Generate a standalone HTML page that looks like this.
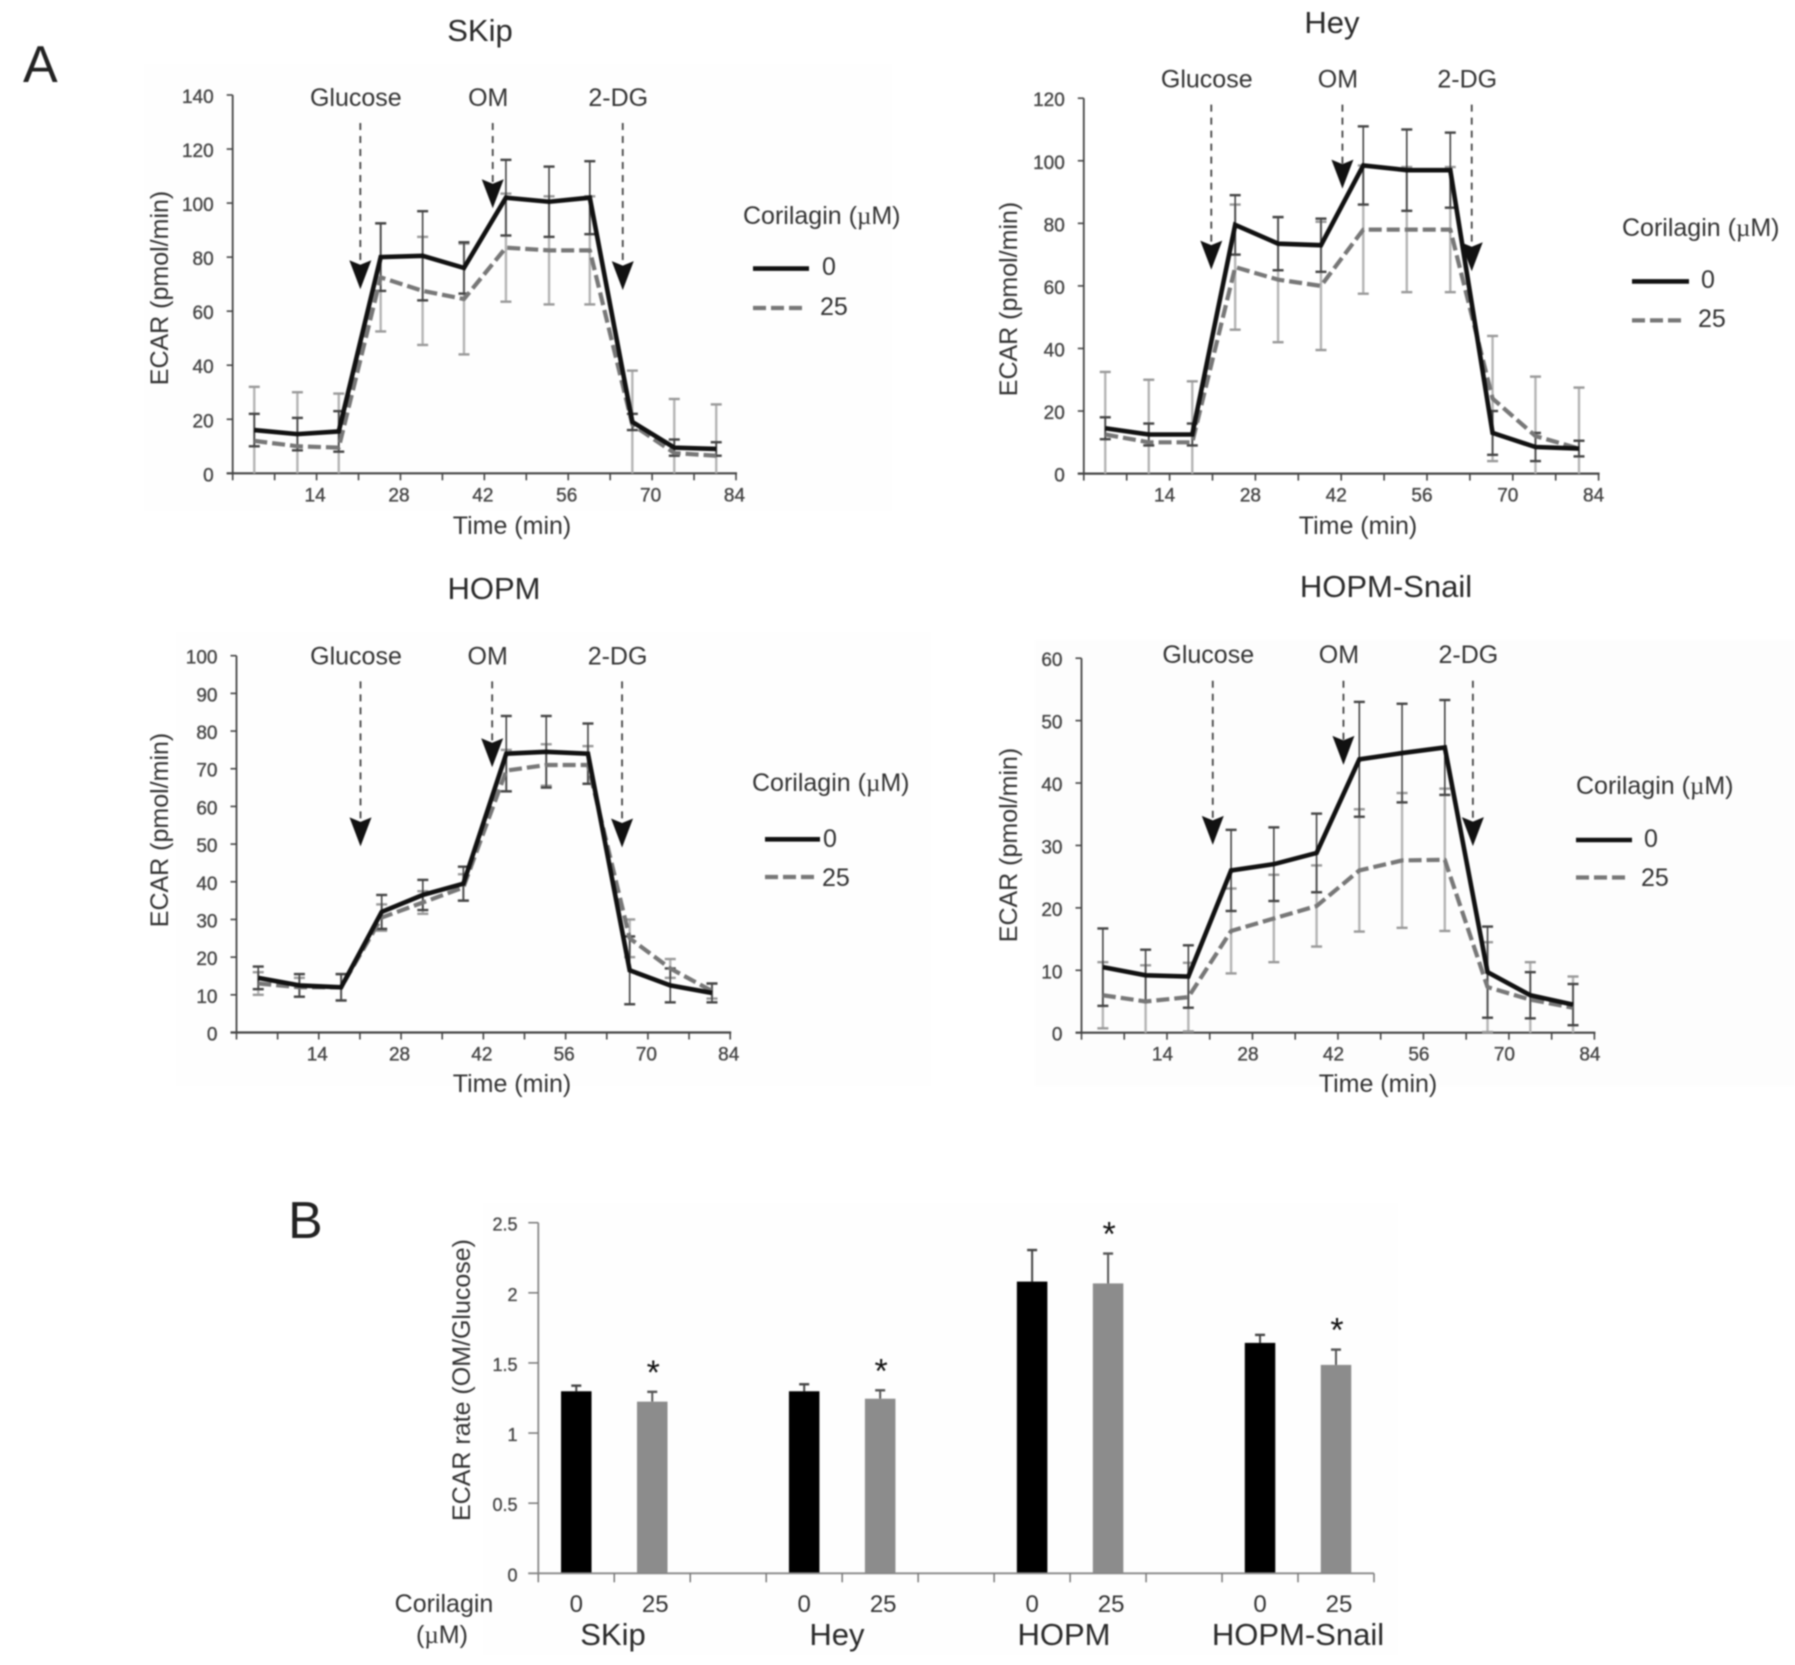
<!DOCTYPE html>
<html lang="en">
<head>
<meta charset="utf-8">
<title>ECAR charts</title>
<style>
html,body{margin:0;padding:0;background:#fff;}
svg{display:block;filter:blur(0.8px);}
text{font-family:"Liberation Sans",sans-serif;fill:#333;}
.mu{font-family:"Liberation Serif",serif;}
.lab{font-size:25px;}
.title{font-size:31px;fill:#2a2a2a;}
.letter{font-size:52px;fill:#222;}
</style>
</head>
<body>
<svg id="fig" xmlns="http://www.w3.org/2000/svg" width="1795" height="1665" viewBox="0 0 1795 1665">
  <rect width="1795" height="1665" fill="#fff"/>
  <rect x="144" y="64" width="748" height="447" fill="#fefefe"/>
  <rect x="176" y="632" width="755" height="454" fill="#fefefe"/>
  <rect x="1035" y="640" width="760" height="446" fill="#fdfdfd"/>
  <rect x="483" y="1203" width="915" height="452" fill="#fefefe"/>

  <text class="letter" x="23" y="82">A</text>
  <text class="letter" x="288" y="1238">B</text>

  <text class="title" x="480" y="41" text-anchor="middle">SKip</text>
  <text class="title" x="1332" y="33" text-anchor="middle">Hey</text>
  <text class="title" x="494" y="599" text-anchor="middle">HOPM</text>
  <text class="title" x="1386" y="597" text-anchor="middle">HOPM-Snail</text>

  <text class="lab" transform="translate(168,288) rotate(-90)" text-anchor="middle">ECAR (pmol/min)</text>
  <text class="lab" transform="translate(1017,299) rotate(-90)" text-anchor="middle">ECAR (pmol/min)</text>
  <text class="lab" transform="translate(168,830) rotate(-90)" text-anchor="middle">ECAR (pmol/min)</text>
  <text class="lab" transform="translate(1017,845) rotate(-90)" text-anchor="middle">ECAR (pmol/min)</text>
  <text class="lab" x="512" y="534" text-anchor="middle">Time (min)</text>
  <text class="lab" x="1358" y="534" text-anchor="middle">Time (min)</text>
  <text class="lab" x="512" y="1092" text-anchor="middle">Time (min)</text>
  <text class="lab" x="1378" y="1092" text-anchor="middle">Time (min)</text>

  <g>
    <text class="lab" x="743" y="224">Corilagin (<tspan class="mu">µ</tspan>M)</text>
    <line x1="753" x2="809" y1="268.6" y2="268.6" stroke="#111" stroke-width="4.6"/>
    <text class="lab" x="822" y="275">0</text>
    <line x1="753" x2="807" y1="308" y2="308" stroke="#777" stroke-width="4.2" stroke-dasharray="13 5"/>
    <text class="lab" x="820" y="315">25</text>
  </g>
  <g>
    <text class="lab" x="1622" y="236">Corilagin (<tspan class="mu">µ</tspan>M)</text>
    <line x1="1632" x2="1689" y1="281.4" y2="281.4" stroke="#111" stroke-width="4.6"/>
    <text class="lab" x="1701" y="288">0</text>
    <line x1="1632" x2="1683" y1="320.4" y2="320.4" stroke="#777" stroke-width="4.2" stroke-dasharray="13 5"/>
    <text class="lab" x="1698" y="327">25</text>
  </g>
  <g>
    <text class="lab" x="752" y="791">Corilagin (<tspan class="mu">µ</tspan>M)</text>
    <line x1="765" x2="820" y1="839.3" y2="839.3" stroke="#111" stroke-width="4.6"/>
    <text class="lab" x="823" y="847">0</text>
    <line x1="765" x2="819" y1="877" y2="877" stroke="#777" stroke-width="4.2" stroke-dasharray="13 5"/>
    <text class="lab" x="822" y="886">25</text>
  </g>
  <g>
    <text class="lab" x="1576" y="794">Corilagin (<tspan class="mu">µ</tspan>M)</text>
    <line x1="1576" x2="1632" y1="840" y2="840" stroke="#111" stroke-width="4.6"/>
    <text class="lab" x="1644" y="847">0</text>
    <line x1="1576" x2="1628" y1="877.5" y2="877.5" stroke="#777" stroke-width="4.2" stroke-dasharray="13 5"/>
    <text class="lab" x="1641" y="886">25</text>
  </g>

  <text class="lab" transform="translate(470,1380) rotate(-90)" text-anchor="middle">ECAR rate (OM/Glucose)</text>
  <text class="lab" x="444" y="1612" text-anchor="middle">Corilagin</text>
  <text class="lab" x="442" y="1643" text-anchor="middle">(<tspan class="mu">µ</tspan>M)</text>
  <text class="title" x="613" y="1645" text-anchor="middle">SKip</text>
  <text class="title" x="837" y="1645" text-anchor="middle">Hey</text>
  <text class="title" x="1064" y="1645" text-anchor="middle">HOPM</text>
  <text class="title" x="1298" y="1645" text-anchor="middle">HOPM-Snail</text>
</svg>

<script>
// ---- Shared tick labels ----
var xTickLabels = [14, 28, 42, 56, 70, 84];
var xTickMinor = [0, 7, 14, 21, 28, 35, 42, 49, 56, 63, 70, 77, 84];
var skipYTicks = [0, 20, 40, 60, 80, 100, 120, 140];
var heyYTicks = [0, 20, 40, 60, 80, 100, 120];
var hopmYTicks = [0, 10, 20, 30, 40, 50, 60, 70, 80, 90, 100];
var snailYTicks = [0, 10, 20, 30, 40, 50, 60];
var annotationNames = ["Glucose", "OM", "2-DG"];

// ---- SKip ----
var skipTime = [3.6, 10.8, 17.7, 24.7, 31.7, 38.6, 45.6, 52.8, 59.6, 66.7, 73.7, 80.7];
var skipControl = [16, 14.5, 15.5, 80, 80.5, 76, 102, 100.5, 102, 19, 9.5, 9];
var skipControlErr = [6, 6, 7.5, 12.5, 16.5, 9.5, 14, 13, 13.5, 3, 3, 2.5];
var skipTreated = [12, 10, 9.5, 72.5, 67.5, 64.5, 83.5, 82.5, 82.5, 18, 7.5, 6.5];
var skipTreatedErr = [20, 20, 20, 20, 20, 20.5, 20, 20, 20, 20, 20, 19];
var skipArrowTime = [21.3, 43.4, 65.1];
var skipArrowTip = [68.1, 98.1, 67.8];

// ---- Hey ----
var heyTime = [3.5, 10.6, 17.7, 24.7, 31.7, 38.7, 45.6, 52.7, 59.8, 66.7, 73.7, 80.8];
var heyControl = [14.5, 12.5, 12.5, 79.5, 73.5, 73, 98.5, 97, 97, 13, 8.5, 8];
var heyControlErr = [3.5, 3.5, 3.5, 9.5, 8.5, 8.5, 12.5, 13, 12, 7, 4.5, 2.5];
var heyTreated = [12.5, 10, 10, 66, 62, 60, 78, 78, 78, 24, 12, 8];
var heyTreatedErr = [20, 20, 19.5, 20, 20, 20.5, 20.5, 20, 20, 20, 19, 19.5];
var heyArrowTime = [20.8, 42.2, 63.3];
var heyArrowTip = [65.2, 91.1, 64.7];

// ---- HOPM ----
var hopmTime = [3.7, 10.7, 17.8, 24.7, 31.7, 38.6, 45.9, 52.7, 59.8, 66.9, 73.8, 80.9];
var hopmControl = [14.5, 12.5, 12, 32, 36.5, 39.5, 74, 74.5, 74, 16.5, 12.5, 10.5];
var hopmControlErr = [3, 3, 3.5, 4.5, 4, 4.5, 10, 9.5, 8, 9, 4.5, 2.5];
var hopmTreated = [13, 12, 12, 30.5, 34.5, 38.5, 69.5, 71, 71, 25, 17, 11];
var hopmTreatedErr = [3, 2.5, 3.5, 3.5, 3, 3.5, 5.5, 5.5, 5, 5, 2.5, 2];
var hopmArrowTime = [21.1, 43.5, 65.6];
var hopmArrowTip = [49.4, 70.4, 49.1];

// ---- HOPM-Snail ----
var snailTime = [3.5, 10.5, 17.5, 24.5, 31.5, 38.5, 45.5, 52.5, 59.5, 66.5, 73.5, 80.5];
var snailControl = [10.5, 9.2, 9, 26, 27, 28.8, 43.8, 44.8, 45.7, 9.7, 6, 4.5];
var snailControlErr = [6.2, 4.1, 5, 6.5, 5.9, 6.3, 9.2, 7.9, 7.6, 7.3, 3.7, 3.3];
var snailTreated = [6, 5, 5.7, 16.3, 18.3, 20.3, 26, 27.6, 27.7, 7.3, 5.3, 4];
var snailTreatedErr = [5.3, 5.8, 5.5, 6.8, 7, 6.5, 9.8, 10.8, 11.4, 7.2, 6, 5];
var snailArrowTime = [21.5, 42.9, 64.1];
var snailArrowTip = [30.1, 42.9, 29.9];

// ---- Ratio bars ----
var ratioYTicks = [0, 0.5, 1, 1.5, 2, 2.5];
var ratioDoseLabels = ["0", "25"];
var ratioControl = [1.298, 1.298, 2.08, 1.643];
var ratioControlErr = [0.04, 0.05, 0.225, 0.057];
var ratioTreated = [1.224, 1.245, 2.067, 1.486];
var ratioTreatedErr = [0.07, 0.06, 0.213, 0.109];
var ratioStars = ["*", "*", "*", "*"];

var NS = "http://www.w3.org/2000/svg";
var fig = document.getElementById("fig");

function mk(parent, tag, attrs, txt) {
  var el = document.createElementNS(NS, tag);
  for (var k in attrs) el.setAttribute(k, attrs[k]);
  if (txt !== undefined) el.textContent = txt;
  parent.appendChild(el);
  return el;
}

function drawPanel(p) {
  var g = mk(fig, "g", {});
  
  
  var sx = function (t) { return p.x0 + (t / 84) * (p.x84 - p.x0); };
  var sy = function (v) { return p.y0 - (v / p.yMax) * (p.y0 - p.yTop); };

  // axes
  var yAxis = mk(g, "line", { x1: p.x0, x2: p.x0, y1: p.yTop, y2: p.y0, stroke: "#444", "stroke-width": 1.8 });
  
  
  var xAxis = mk(g, "line", { x1: p.x0 - 6, x2: p.x84 + 1, y1: p.y0, y2: p.y0, stroke: "#444", "stroke-width": 2.2 });
  
  

  p.yTicks.forEach(function (v) {
    var t = mk(g, "line", { x1: p.x0 - 6, x2: p.x0, y1: sy(v), y2: sy(v), stroke: "#444", "stroke-width": 1.6 });
    
    
    var l = mk(g, "text", { x: p.x0 - 19, y: sy(v) + 8, "text-anchor": "end", "font-size": 19, style: "fill:#444;stroke:#444;stroke-width:0.35" }, String(v));
    
    
  });
  xTickMinor.forEach(function (v) {
    var t = mk(g, "line", { x1: sx(v), x2: sx(v), y1: p.y0, y2: p.y0 + 7, stroke: "#444", "stroke-width": 1.6 });
    
    
  });
  xTickLabels.forEach(function (v) {
    var l = mk(g, "text", { x: sx(v) + p.labelDx, y: p.y0 + 28, "text-anchor": "middle", "font-size": 19, style: "fill:#444;stroke:#444;stroke-width:0.35" }, String(v));
    
    
  });

  function errors(vals, errs, color, width, capColor, nm) {
    vals.forEach(function (v, i) {
      var x = sx(p.time[i]);
      var hi = sy(v + errs[i]);
      var lowVal = v - errs[i];
      var lo = sy(Math.max(0, lowVal));
      var s = mk(g, "line", { x1: x, x2: x, y1: hi, y2: lo, stroke: color, "stroke-width": width });
      
      
      var c1 = mk(g, "line", { x1: x - 5.5, x2: x + 5.5, y1: hi, y2: hi, stroke: capColor, "stroke-width": 2.4 });
      
      
      if (lowVal > 0) {
        var c2 = mk(g, "line", { x1: x - 5.5, x2: x + 5.5, y1: lo, y2: lo, stroke: capColor, "stroke-width": 2.4 });
        
        
      }
    });
  }
  errors(p.treated, p.treatedErr, "#b4b4b4", 2.4, "#999", "treated");
  errors(p.control, p.controlErr, "#444", 1.6, "#444", "control");

  function series(vals, attrs, nm) {
    var pts = vals.map(function (v, i) { return sx(p.time[i]) + "," + sy(v); }).join(" ");
    attrs.points = pts;
    attrs.fill = "none";
    var pl = mk(g, "polyline", attrs);
    
    
  }
  series(p.treated, { stroke: "#777", "stroke-width": 4.2, "stroke-dasharray": "13 5", "stroke-linejoin": "round" }, "series-25");
  series(p.control, { stroke: "#111", "stroke-width": 4.6, "stroke-linejoin": "miter" }, "series-0");

  // treatment arrows
  annotationNames.forEach(function (name, i) {
    var x = sx(p.arrowTime[i]);
    var tip = sy(p.arrowTip[i]);
    var d = mk(g, "line", { x1: x, x2: x, y1: p.arrowTop, y2: tip - 25, stroke: "#444", "stroke-width": 1.8, "stroke-dasharray": "7 6" });
    
    
    var h = mk(g, "polygon", { points: x + "," + tip + " " + (x - 11) + "," + (tip - 29) + " " + x + "," + (tip - 24.5) + " " + (x + 11) + "," + (tip - 29), fill: "#111" });
    
    
    var l = mk(g, "text", { x: x - 4.5, y: p.labelY, "text-anchor": "middle", "font-size": 25 }, name);
    
    
  });
}

drawPanel({ name: "skip", x0: 232.7, x84: 736, y0: 473.3, yTop: 95, yMax: 140, labelDx: -1.5, yTicks: skipYTicks, time: skipTime,
  control: skipControl, controlErr: skipControlErr, treated: skipTreated, treatedErr: skipTreatedErr,
  arrowTime: skipArrowTime, arrowTip: skipArrowTip, arrowTop: 123, labelY: 106 });
drawPanel({ name: "hey", x0: 1083.8, x84: 1598.6, y0: 473.6, yTop: 98.2, yMax: 120, labelDx: -5, yTicks: heyYTicks, time: heyTime,
  control: heyControl, controlErr: heyControlErr, treated: heyTreated, treatedErr: heyTreatedErr,
  arrowTime: heyArrowTime, arrowTip: heyArrowTip, arrowTop: 104.6, labelY: 87.5 });
drawPanel({ name: "hopm", x0: 236.5, x84: 730.2, y0: 1032.5, yTop: 655.7, yMax: 100, labelDx: -1.5, yTicks: hopmYTicks, time: hopmTime,
  control: hopmControl, controlErr: hopmControlErr, treated: hopmTreated, treatedErr: hopmTreatedErr,
  arrowTime: hopmArrowTime, arrowTip: hopmArrowTip, arrowTop: 681.4, labelY: 664.3 });
drawPanel({ name: "hopm-snail", x0: 1081.5, x84: 1594.4, y0: 1032.7, yTop: 658.2, yMax: 60, labelDx: -4.5, yTicks: snailYTicks, time: snailTime,
  control: snailControl, controlErr: snailControlErr, treated: snailTreated, treatedErr: snailTreatedErr,
  arrowTime: snailArrowTime, arrowTip: snailArrowTip, arrowTop: 680.7, labelY: 662.9 });

// ---- Bar chart ----
(function () {
  var g = mk(fig, "g", {});
  
  
  var x0 = 538.3, x1 = 1374, y0 = 1573.3, yTop = 1222.7, yMax = 2.5, slots = 11, bw = 30.5;
  var slotW = (x1 - x0) / slots;
  var sy = function (v) { return y0 - (v / yMax) * (y0 - yTop); };
  var sc = function (s) { return x0 + (s + 0.5) * slotW; };

  var ya = mk(g, "line", { x1: x0, x2: x0, y1: yTop, y2: y0, stroke: "#888", "stroke-width": 1.8 });
  
  
  ratioYTicks.forEach(function (v) {
    var t = mk(g, "line", { x1: x0 - 10, x2: x0, y1: sy(v), y2: sy(v), stroke: "#777", "stroke-width": 1.5 });
    
    
    var l = mk(g, "text", { x: 517.5, y: sy(v) + 8, "text-anchor": "end", "font-size": 18, style: "fill:#444;stroke:#444;stroke-width:0.3" }, String(v));
    
    
  });

  function bar(slot, v, err, color, errColor, nm) {
    var c = sc(slot);
    var top = sy(v + err);
    var s = mk(g, "line", { x1: c, x2: c, y1: top, y2: sy(v), stroke: errColor, "stroke-width": 2 });
    
    
    var cap = mk(g, "line", { x1: c - 5, x2: c + 5, y1: top, y2: top, stroke: errColor, "stroke-width": 2.4 });
    
    
    var r = mk(g, "rect", { x: c - bw / 2, y: sy(v), width: bw, height: y0 - sy(v), fill: color });
    
    
  }

  ratioControl.forEach(function (v, i) {
    var slot = i * 3;
    bar(slot, v, ratioControlErr[i], "#000", "#444", "control");
    bar(slot + 1, ratioTreated[i], ratioTreatedErr[i], "#8c8c8c", "#555", "treated");
    var star = mk(g, "text", { x: sc(slot + 1) + 1, y: sy(ratioTreated[i] + ratioTreatedErr[i]) - 8, "text-anchor": "middle", "font-size": 34, style: "fill:#111" }, ratioStars[i]);
    
    
    var l0 = mk(g, "text", { x: sc(slot), y: 1612, "text-anchor": "middle", "font-size": 24 }, ratioDoseLabels[0]);
    
    
    var l1 = mk(g, "text", { x: sc(slot + 1) + 3, y: 1612, "text-anchor": "middle", "font-size": 24 }, ratioDoseLabels[1]);
    
    
  });

  var xa = mk(g, "line", { x1: x0 - 10, x2: x1, y1: y0, y2: y0, stroke: "#888", "stroke-width": 1.8 });
  
  
  for (var s = 0; s <= slots; s++) {
    var tk = mk(g, "line", { x1: x0 + s * slotW, x2: x0 + s * slotW, y1: y0, y2: y0 + 9, stroke: "#777", "stroke-width": 1.5 });
    
    
  }
})();
</script>
</body>
</html>
